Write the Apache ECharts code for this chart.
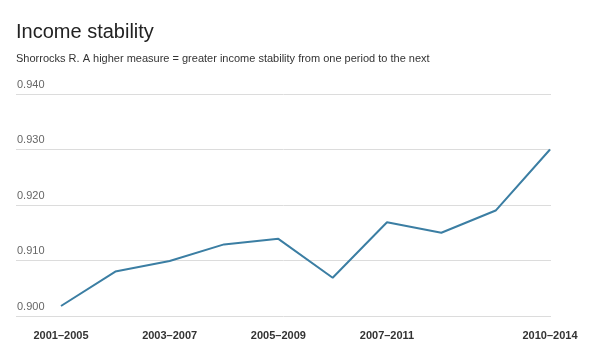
<!DOCTYPE html>
<html><head><meta charset="utf-8">
<script src="https://cdn.jsdelivr.net/npm/echarts@6/dist/echarts.min.js"></script>
<style>html,body{margin:0;padding:0;background:#fff}#c{width:592px;height:360px}</style>
</head><body><div id="c"></div>
<script>
var categories = ['2001–2005','2002–2006','2003–2007','2004–2008','2005–2009','2006–2010','2007–2011','2008–2012','2009–2013','2010–2014'];
var values = [0.9018, 0.9080, 0.9099, 0.9129, 0.9139, 0.9069, 0.9169, 0.9150, 0.9190, 0.9300];
var yTicks = [0.900, 0.910, 0.920, 0.930, 0.940];
var shownLabels = [0, 2, 4, 6, 9];

var chart = echarts.init(document.getElementById('c'));
var font = 'Liberation Sans, Arial, sans-serif';
chart.setOption({
  animation: false,
  title: [
    {text: 'Income stability', left: 11, top: 17, textStyle: {fontFamily: font, fontSize: 20, fontWeight: 'normal', color: '#222'}},
    {text: 'Shorrocks R. A higher measure = greater income stability from one period to the next', left: 11, top: 48, textStyle: {fontFamily: font, fontSize: 11, fontWeight: 'normal', color: '#333'}}
  ],
  grid: [
    {left: 16, right: 41, top: 94, bottom: 44},
    {left: 61, right: 42, top: 94, bottom: 44}
  ],
  xAxis: [
    {gridIndex: 0, type: 'category', data: categories, show: false},
    {gridIndex: 1, type: 'category', data: categories, boundaryGap: false,
     axisLine: {show: false}, axisTick: {show: false},
     axisLabel: {
       interval: function (i) { return shownLabels.indexOf(i) >= 0; },
       margin: 14, fontFamily: font, fontSize: 11, fontWeight: 'bold', color: '#333',
       formatter: function (v, i) { return i === categories.length - 1 ? '{cut|' + v + '}' : v; },
       rich: {cut: {width: 52, overflow: 'truncate', ellipsis: '', fontFamily: font, fontSize: 11, fontWeight: 'bold', color: '#333'}}
     }}
  ],
  yAxis: [
    {gridIndex: 0, type: 'value', min: yTicks[0], max: yTicks[yTicks.length-1], interval: 0.01,
     axisLine: {show: false}, axisTick: {show: false},
     splitLine: {lineStyle: {color: '#dcdcdc', width: 1}},
     axisLabel: {inside: true, verticalAlign: 'bottom', padding: [0, 0, 4, 1], margin: 0,
       fontFamily: font, fontSize: 11, color: '#666',
       formatter: function (v) { return v.toFixed(3); }}},
    {gridIndex: 1, type: 'value', min: yTicks[0], max: yTicks[yTicks.length-1], interval: 0.01, show: false}
  ],
  series: [{
    type: 'line', xAxisIndex: 1, yAxisIndex: 1, data: values,
    symbol: 'none', lineStyle: {color: '#3b7ea3', width: 2}
  }]
});
</script></body></html>
